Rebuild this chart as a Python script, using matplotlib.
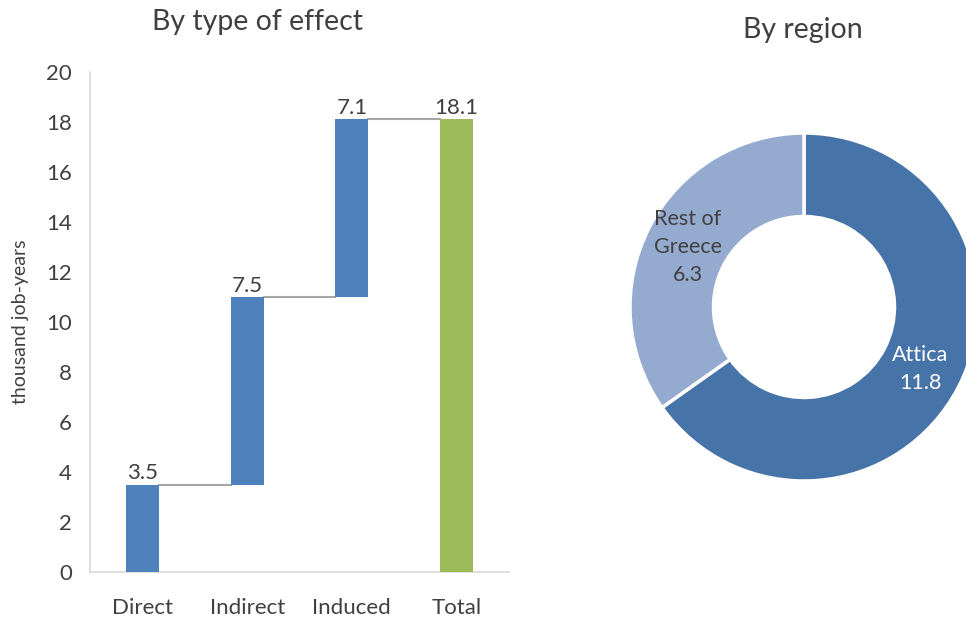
import matplotlib
matplotlib.use("Agg")
import matplotlib.pyplot as plt
import numpy as np

plt.rcParams['font.family'] = ['Lato', 'DejaVu Sans']

# Data
categories = ["Direct", "Indirect", "Induced", "Total"]
effects = [3.5, 7.5, 7.1]
total = 18.1
regions = ["Attica", "Rest of\nGreece"]
region_values = [11.8, 6.3]
yticks = [0, 2, 4, 6, 8, 10, 12, 14, 16, 18, 20]

TXT = "#404040"
W, H = 966, 619
fig = plt.figure(figsize=(W / 100, H / 100), dpi=100)

# Waterfall
ax = fig.add_axes([90 / W, (H - 572) / H, 419 / W, 500 / H])
x = np.arange(len(categories))
bottoms = [0, effects[0], effects[0] + effects[1]]
heights = effects + [total]
bases = bottoms + [0]
colors = ["#4F81BD"] * 3 + ["#9BBB59"]
bw = 0.315
ax.bar(x, heights, bottom=bases, width=bw, color=colors, zorder=3)
tops = [b + h for b, h in zip(bases, heights)]
for i in range(3):
    ax.plot([x[i] + bw / 2, x[i + 1] - bw / 2], [tops[i], tops[i]],
            color="#A6A6A6", lw=1.5, zorder=2)
labels = [f"{v:.1f}" for v in heights]
for xi, t, lab in zip(x, tops, labels):
    ax.annotate(lab, (xi, t), xytext=(0, 1), textcoords="offset points",
                ha="center", va="bottom", fontsize=16, color=TXT)
ax.set_xlim(-0.5, 3.5)
ax.set_ylim(0, 20)
ax.set_yticks(yticks)
ax.set_xticks(x)
ax.set_xticklabels(categories)
ax.tick_params(axis="both", length=0, labelsize=16, colors=TXT)
ax.tick_params(axis="x", pad=19)
ax.tick_params(axis="y", pad=13)
for s in ["top", "right"]:
    ax.spines[s].set_visible(False)
for s in ["left", "bottom"]:
    ax.spines[s].set_color("#D9D9D9")
    ax.spines[s].set_linewidth(1.2)
ax.set_ylabel("thousand job-years", fontsize=14, color=TXT, labelpad=12)
fig.text(258 / W, 1 - 22 / H, "By type of effect", ha="center", va="center",
         fontsize=20.5, color=TXT)

# Donut
cx, cy, r = 804, 307, 174
ax2 = fig.add_axes([(cx - r) / W, (H - cy - r) / H, 2 * r / W, 2 * r / H])
ax2.pie(region_values, colors=["#4673A8", "#95AACF"], startangle=90,
        counterclock=False, radius=1.0,
        wedgeprops=dict(width=0.48, edgecolor="white", linewidth=2.5))
ax2.set_xlim(-1, 1)
ax2.set_ylim(-1, 1)
ax2.set_aspect("equal")
ax2.axis("off")
fig.text(920 / W, 1 - 369 / H, f"{regions[0]}\n{region_values[0]}", ha="center",
         va="center", fontsize=15.5, color="white", linespacing=1.5)
fig.text(688 / W, 1 - 247 / H, f"{regions[1]}\n{region_values[1]}", ha="center",
         va="center", fontsize=15.5, color=TXT, linespacing=1.5)
fig.text(803 / W, 1 - 30 / H, "By region", ha="center", va="center",
         fontsize=20.5, color=TXT)

fig.savefig("out.png", dpi=100)
